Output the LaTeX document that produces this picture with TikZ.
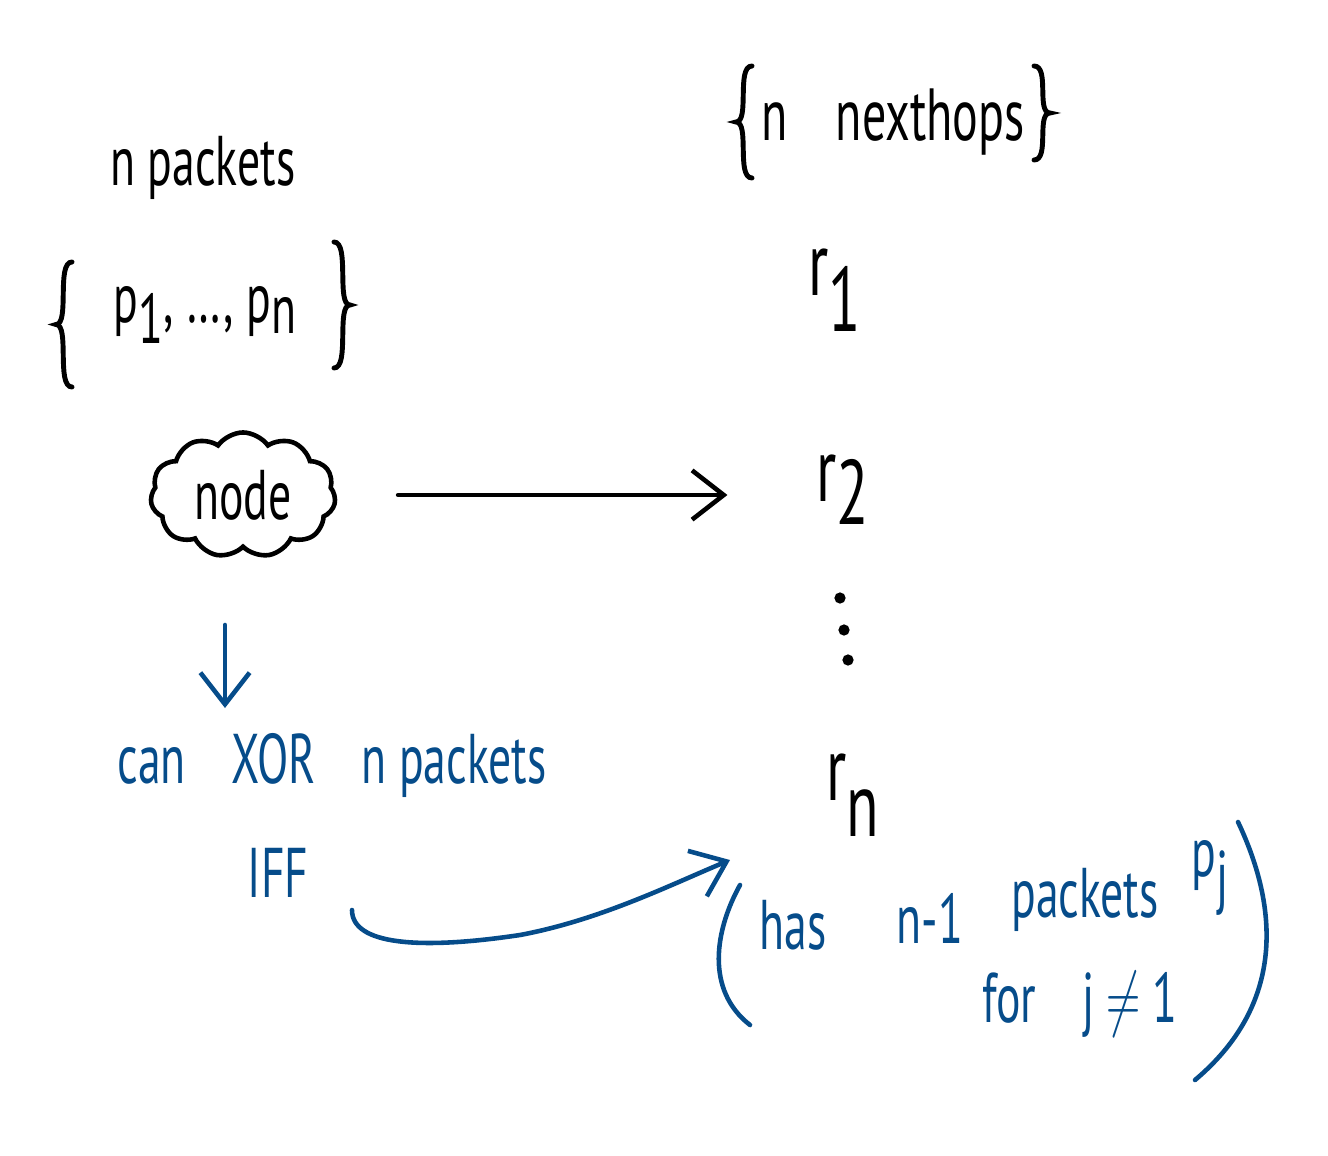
\documentclass[tikz,border=0pt]{standalone}
\usepackage{fontspec}
\setmainfont{PT Sans}
\usetikzlibrary{shapes.symbols,arrows.meta}
\definecolor{ink}{HTML}{064C8A}
\newcommand\hw[1]{\scalebox{0.65}[1]{#1}}
\newcommand\hbrL[4][black]{% x(tip), top, bottom
  \draw[brace,#1] ({#2+16},#3) .. controls ({#2},{#3}) and ({#2+14},{(#3+#4)/2}) .. ({#2},{(#3+#4)/2})
     .. controls ({#2+14},{(#3+#4)/2}) and ({#2},#4) .. ({#2+16},#4);}
\newcommand\hbrR[4][black]{% x(tip), top, bottom
  \draw[brace,#1] ({#2-16},#3) .. controls ({#2},{#3}) and ({#2-14},{(#3+#4)/2}) .. ({#2},{(#3+#4)/2})
     .. controls ({#2-14},{(#3+#4)/2}) and ({#2},#4) .. ({#2-16},#4);}
\tikzset{
  hand/.style={font=\fontsize{20}{24}\selectfont, inner sep=1pt},
  big/.style={font=\fontsize{26}{30}\selectfont, inner sep=1pt},
  blue/.style={text=ink},
  brace/.style={line width=1.4pt, line cap=round},
  pen/.style={line width=1.3pt, line cap=round},
  bluepen/.style={line width=1.3pt, line cap=round, draw=ink},
  barb/.style={-{Straight Barb[length=9pt,width=14pt,line width=1.3pt]}},
  dotn/.style={circle, fill=black, inner sep=0pt, minimum size=3.2pt}
}
\begin{document}
\begin{tikzpicture}[x=0.01cm,y=-0.01cm]
\useasboundingbox (0,0) rectangle (1328,1155);
% left: packets
\node[hand] (np) at (203,168) {\hw{n packets}};
\node[hand] (pset) at (205,315) {\hw{p\raisebox{-0.6ex}{1}, \dots, p\raisebox{-0.3ex}{n}}};
\hbrL{56}{262}{387}
\hbrR{350}{242}{368}
% cloud
\node[cloud, draw, line width=1.3pt, cloud puffs=11, cloud puff arc=110, aspect=1.5,
      minimum width=1.85cm, minimum height=1.25cm, hand, inner sep=2pt] (node) at (243,495) {\hw{node}};
% nexthops
\node[hand, font=\fontsize{21}{26}\selectfont] (nh) at (893,122) {\hw{n\quad nexthops}};
\hbrL{736}{66}{178}
\hbrR{1050}{66}{160}
\node[big] (r1) at (835,290) {\hw{r\raisebox{-0.8ex}{1}}};
\node[big] (r2) at (843,490) {\hw{r\raisebox{-0.5ex}{2}}};
\node[dotn] (d1) at (840,598) {};
\node[dotn] (d2) at (844,630) {};
\node[dotn] (d3) at (848,660) {};
\node[big] (rn) at (853,795) {\hw{r\raisebox{-0.8ex}{n}}};
\draw[pen, barb, shorten <=1.55cm, shorten >=0.85cm] (node.center) -- (r2.west |- node.center);
% blue part
\coordinate (dtop) at (225,625);
\coordinate (dtip) at (225,708);
\node[hand, blue] (can) at (332,765) {\hw{can\quad XOR\quad n packets}};
\draw[bluepen, barb] (dtop) -- (dtip);
\node[hand, blue] (iff) at (278,873) {\hw{IFF}};
\node[hand, blue] (has) at (793,925) {\hw{has}};
\node[hand, blue] (nm1) at (930,918) {\hw{n-1}};
\node[hand, blue] (pk) at (1085,900) {\hw{packets}};
\node[hand, blue] (pj) at (1210,878) {\hw{p\raisebox{-0.7ex}{j}}};
\node[hand, blue] (for) at (1080,1005) {\hw{for\quad j $\neq$ 1}};
\coordinate (cstart) at (352,910);
\coordinate (ctip) at (730,860);
\draw[bluepen, barb] (cstart) .. controls (352,945) and (420,950) .. (520,935)
   .. controls (600,920) and (670,885) .. (ctip);
% big parentheses
\draw[bluepen] (740,885) .. controls (715,930) and (705,990) .. (750,1025);
\draw[bluepen] (1238,822) .. controls (1275,900) and (1290,1000) .. (1195,1080);
\end{tikzpicture}
\end{document}
